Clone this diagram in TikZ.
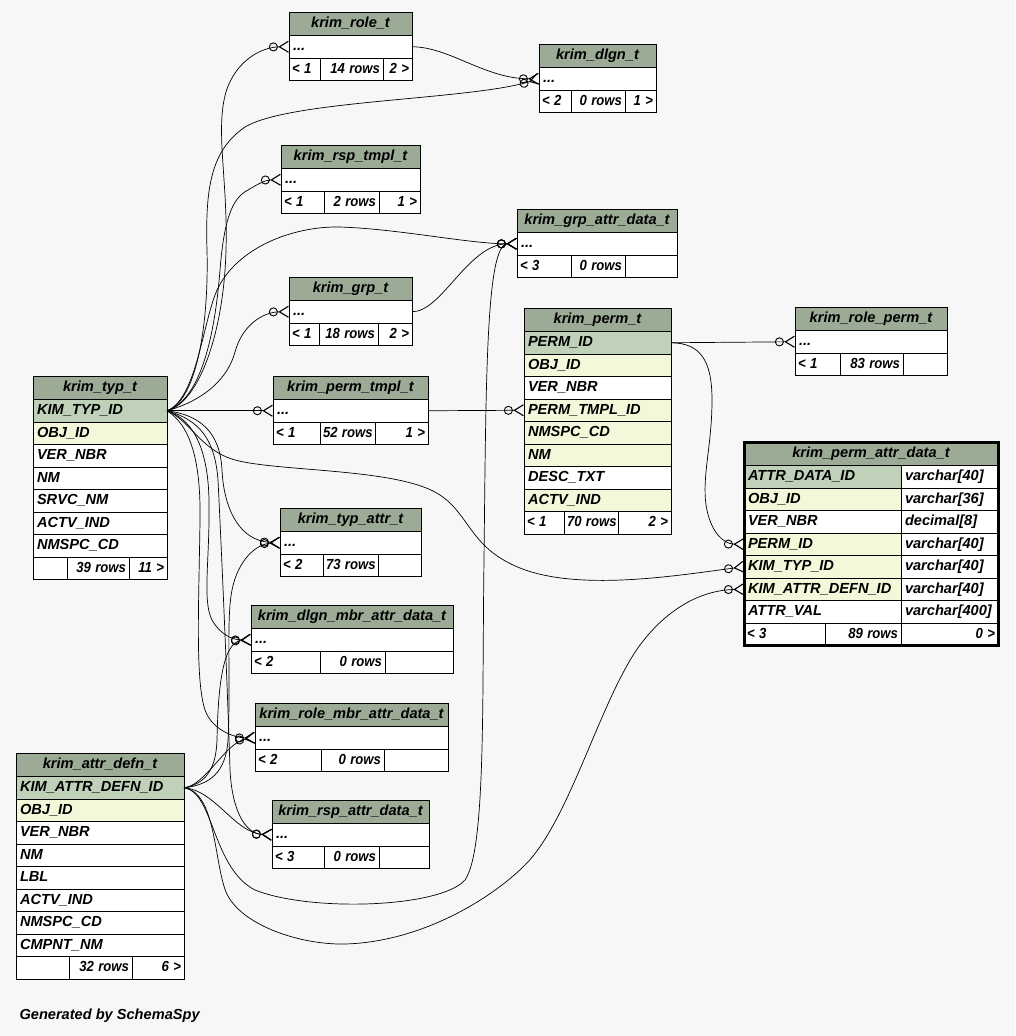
\documentclass[tikz,border=0pt]{standalone}
\usepackage{graphicx}
\usepackage{fontspec}
\setmainfont{Liberation Sans}
\usetikzlibrary{arrows.meta}

\definecolor{HeadGreen}{RGB}{155,171,150}
\definecolor{KeyGreen}{RGB}{191,209,184}
\definecolor{FkYellow}{RGB}{244,247,218}
\definecolor{PageGray}{RGB}{247,247,247}

\newcommand{\tabfont}{\fontsize{14.6}{16}\selectfont\bfseries\itshape}
\newcommand{\foottext}[1]{\scalebox{0.9}[1]{#1}}

% header + one "..." row
\newcommand{\boxtab}[5]{%
  \node[hdr, minimum width=#4pt] (#1-0) at (#2,#3) {#5};
  \pgfmathsetlengthmacro\tw{#4-8}
  \node[cell, minimum width=#4pt, text width=\tw] (#1-1) at (#1-0.south west) {...};}

% header + column rows (text/fill)
\newcommand{\coltab}[6]{%
  \node[hdr, minimum width=#4pt] (#1-0) at (#2,#3) {#5};
  \pgfmathsetlengthmacro\tw{#4-8}
  \foreach \txt/\fc [count=\i, remember=\i as \j (initially 0)] in {#6}
    \node[cell, fill=\fc, minimum width=#4pt, text width=\tw] (#1-\i) at (#1-\j.south west) {\txt};}

% footer: parents, rows, children
\newcommand{\tabfoot}[8]{%
  \pgfmathsetlengthmacro\tw{#3-6}
  \node[foot, minimum width=#3pt, text width=\tw] (#1-f1) at (#2.south west) {\foottext{#6}};
  \pgfmathsetlengthmacro\tw{#4-6}
  \node[foot, minimum width=#4pt, text width=\tw, align=right] (#1-f2) at (#1-f1.north east) {\foottext{#7}};
  \pgfmathsetlengthmacro\tw{#5-6}
  \node[foot, minimum width=#5pt, text width=\tw, align=right] (#1-f3) at (#1-f2.north east) {\foottext{#8}};}

\begin{document}
\begin{tikzpicture}[x=1pt, y=-1pt,
    cell/.style={draw=black, line width=0.8pt, anchor=north west, outer sep=0pt,
      inner xsep=4pt, inner ysep=0pt, minimum height=22.5pt, fill=white,
      text height=11pt, text depth=3pt, font=\tabfont, align=left},
    foot/.style={cell, inner xsep=3pt},
    hdr/.style={cell, fill=HeadGreen, minimum height=23.5pt, align=center},
    fk/.style={line width=0.7pt,
      -{Circle[open, length=9pt, width=9pt, line width=0.9pt, sep=0.5pt]
        Straight Barb[reversed, length=9pt, width=11pt, line width=1.1pt]}}
]
\useasboundingbox (0,0) rectangle (1015,1036);
\fill[PageGray] (0,0) rectangle (1015,1036);

% small tables
\boxtab{role}{289}{12}{123}{krim\_role\_t}
\tabfoot{role}{role-1}{31}{63}{29}{< 1}{14 rows}{2 >}
\boxtab{dlgn}{539}{44}{117}{krim\_dlgn\_t}
\tabfoot{dlgn}{dlgn-1}{32}{54}{31}{< 2}{0 rows}{1 >}
\boxtab{rspt}{281}{145}{139}{krim\_rsp\_tmpl\_t}
\tabfoot{rspt}{rspt-1}{43}{55}{41}{< 1}{2 rows}{1 >}
\boxtab{gad}{517}{209}{160}{krim\_grp\_attr\_data\_t}
\tabfoot{gad}{gad-1}{54}{54}{52}{< 3}{0 rows}{}
\boxtab{grp}{289}{277}{123}{krim\_grp\_t}
\tabfoot{grp}{grp-1}{30}{59}{34}{< 1}{18 rows}{2 >}
\boxtab{rperm}{795}{307}{152}{krim\_role\_perm\_t}
\tabfoot{rperm}{rperm-1}{45}{63}{44}{< 1}{83 rows}{}
\boxtab{ptmpl}{273}{376}{155}{krim\_perm\_tmpl\_t}
\tabfoot{ptmpl}{ptmpl-1}{47}{55}{53}{< 1}{52 rows}{1 >}
\boxtab{tattr}{280}{508}{141}{krim\_typ\_attr\_t}
\tabfoot{tattr}{tattr-1}{43}{55}{43}{< 2}{73 rows}{}
\boxtab{dmad}{251}{605}{202}{krim\_dlgn\_mbr\_attr\_data\_t}
\tabfoot{dmad}{dmad-1}{69}{65}{68}{< 2}{0 rows}{}
\boxtab{rmad}{255}{703}{193}{krim\_role\_mbr\_attr\_data\_t}
\tabfoot{rmad}{rmad-1}{66}{63}{64}{< 2}{0 rows}{}
\boxtab{rsad}{272}{800}{157}{krim\_rsp\_attr\_data\_t}
\tabfoot{rsad}{rsad-1}{52}{55}{50}{< 3}{0 rows}{}

% tables with columns
\coltab{perm}{524}{308}{147}{krim\_perm\_t}{PERM\_ID/KeyGreen, OBJ\_ID/FkYellow,
  VER\_NBR/white, PERM\_TMPL\_ID/FkYellow, NMSPC\_CD/FkYellow, NM/FkYellow,
  DESC\_TXT/white, ACTV\_IND/FkYellow}
\tabfoot{perm}{perm-8}{40}{54}{53}{< 1}{70 rows}{2 >}
\coltab{typ}{33}{376}{134}{krim\_typ\_t}{KIM\_TYP\_ID/KeyGreen, OBJ\_ID/FkYellow,
  VER\_NBR/white, NM/white, SRVC\_NM/white, ACTV\_IND/white, NMSPC\_CD/white}
\tabfoot{typ}{typ-7}{34}{62}{38}{}{39 rows}{11 >}
\coltab{adef}{16}{753}{168}{krim\_attr\_defn\_t}{KIM\_ATTR\_DEFN\_ID/KeyGreen,
  OBJ\_ID/FkYellow, VER\_NBR/white, NM/white, LBL/white, ACTV\_IND/white,
  NMSPC\_CD/white, CMPNT\_NM/white}
\tabfoot{adef}{adef-8}{53}{63}{52}{}{32 rows}{6 >}

% focus table
\node[hdr, minimum width=254pt] (pad-0) at (744,442) {krim\_perm\_attr\_data\_t};
\foreach \txt/\kind/\fc [count=\i, remember=\i as \j (initially 0)] in {
    ATTR\_DATA\_ID/varchar[40]/KeyGreen, OBJ\_ID/varchar[36]/FkYellow,
    VER\_NBR/decimal[8]/white, PERM\_ID/varchar[40]/FkYellow,
    KIM\_TYP\_ID/varchar[40]/FkYellow, KIM\_ATTR\_DEFN\_ID/varchar[40]/FkYellow,
    ATTR\_VAL/varchar[400]/white} {
  \node[cell, fill=\fc, minimum width=157pt, text width=149pt] (pad-\i) at (pad-\j.south west) {\txt};
  \node[cell, minimum width=97pt, text width=89pt] (padt-\i) at (pad-\i.north east) {\kind};
}
\tabfoot{pad}{pad-7}{81}{76}{97}{< 3}{89 rows}{0 >}
\draw[line width=3pt] (pad-0.north west) rectangle (pad-f3.south east);

\node[font=\tabfont, anchor=west] (gen) at (16,1016) {Generated by SchemaSpy};

% relationships
\draw[fk] (role-1.east) .. controls (450,47) and (485,79) .. (dlgn-1.west);
\draw[fk] (typ-1.east) .. controls (200,402) and (224,330) .. (226,250)
  .. controls (228,180) and (215,130) .. (226,92) .. controls (236,60) and (262,47) .. (role-1.west);
\draw[fk] (typ-1.east) .. controls (195,402) and (209,330) .. (207,250)
  .. controls (205,185) and (212,150) .. (245,127) .. controls (290,100) and (470,100) .. (dlgn-1.west);
\draw[fk] (typ-1.east) .. controls (205,398) and (216,320) .. (220,270)
  .. controls (224,220) and (232,198) .. (248,190) .. controls (258,184) and (265,180) .. (rspt-1.west);
\draw[fk] (typ-1.east) .. controls (195,400) and (202,330) .. (215,295)
  .. controls (232,250) and (290,226) .. (340,227) .. controls (400,229) and (470,244) .. (gad-1.west);
\draw[fk] (grp-1.east) .. controls (442,312) and (468,244) .. (gad-1.west);
\draw[fk] (adef-1.east) .. controls (214,792) and (212,868) .. (255,890)
  .. controls (310,912) and (440,908) .. (465,880) .. controls (486,850) and (482,700) .. (484,560)
  .. controls (486,380) and (486,244) .. (gad-1.west);
\draw[fk] (typ-1.east) .. controls (205,400) and (228,378) .. (235,352)
  .. controls (242,326) and (262,312) .. (grp-1.west);
\draw[fk] (typ-1.east) -- (ptmpl-1.west);
\draw[fk] (ptmpl-1.east) -- (perm-4.west);
\draw[fk] (perm-1.east) -- (rperm-1.west);
\draw[fk] (perm-1.east) .. controls (700,343) and (712,360) .. (712,400)
  .. controls (712,445) and (702,475) .. (706,505) .. controls (710,530) and (722,544) .. (pad-4.west);
\draw[fk] (typ-1.east) .. controls (190,420) and (200,450) .. (235,460)
  .. controls (280,472) and (400,468) .. (440,495) .. controls (470,515) and (470,548) .. (520,568)
  .. controls (580,592) and (680,575) .. (pad-5.west);
\draw[fk] (adef-1.east) .. controls (216,792) and (214,862) .. (226,892)
  .. controls (240,925) and (300,945) .. (345,944) .. controls (420,942) and (490,900) .. (525,865)
  .. controls (570,820) and (600,700) .. (640,645) .. controls (670,605) and (705,590) .. (pad-6.west);
\draw[fk] (typ-1.east) .. controls (200,415) and (220,432) .. (222,470)
  .. controls (224,510) and (240,541) .. (tattr-1.west);
\draw[fk] (adef-1.east) .. controls (210,785) and (226,772) .. (228,740)
  .. controls (231,680) and (226,620) .. (232,590) .. controls (238,560) and (256,544) .. (tattr-1.west);
\draw[fk] (typ-1.east) .. controls (195,420) and (208,452) .. (209,500)
  .. controls (210,560) and (202,600) .. (212,620) .. controls (220,634) and (232,640) .. (dmad-1.west);
\draw[fk] (adef-1.east) .. controls (205,784) and (216,770) .. (217,740)
  .. controls (218,690) and (222,642) .. (dmad-1.west);
\draw[fk] (typ-1.east) .. controls (190,425) and (201,460) .. (200,520)
  .. controls (199,600) and (195,680) .. (205,710) .. controls (212,730) and (235,738) .. (rmad-1.west);
\draw[fk] (adef-1.east) .. controls (205,786) and (226,742) .. (rmad-1.west);
\draw[fk] (typ-1.east) .. controls (200,420) and (215,440) .. (218,480)
  .. controls (222,560) and (228,700) .. (230,770) .. controls (232,810) and (245,834) .. (rsad-1.west);
\draw[fk] (adef-1.east) .. controls (215,790) and (235,833) .. (rsad-1.west);
\end{tikzpicture}
\end{document}
